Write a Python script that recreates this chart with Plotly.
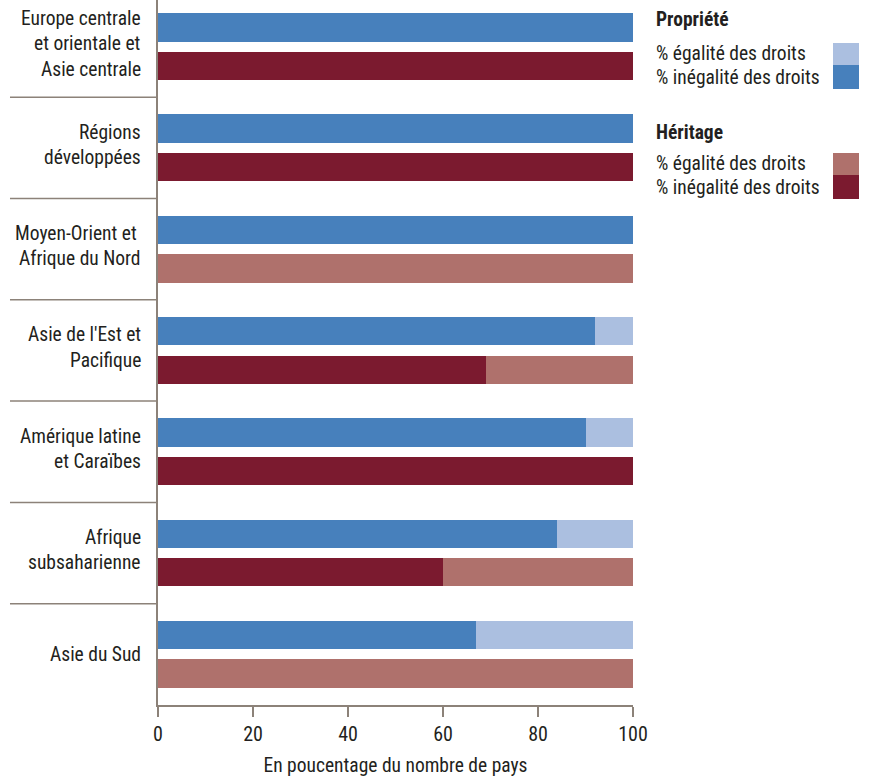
import plotly.graph_objects as go

# Regions, top to bottom; each label split into its display lines
regions = [
    ["Europe centrale", "et orientale et", "Asie centrale"],
    ["Régions", "développées"],
    ["Moyen-Orient et ", "Afrique du Nord"],
    ["Asie de l'Est et", "Pacifique"],
    ["Amérique latine", "et Caraïbes"],
    ["Afrique", "subsaharienne"],
    ["Asie du Sud"],
]

# Property rights (% of countries)
prop_inegalite = [100, 100, 100, 92, 90, 84, 67]
prop_egalite = [0, 0, 0, 8, 10, 16, 33]

# Inheritance rights (% of countries)
her_inegalite = [100, 100, 0, 69, 100, 60, 0]
her_egalite = [0, 0, 100, 31, 0, 40, 100]

x_ticks = [0, 20, 40, 60, 80, 100]

BLUE_DARK = "#4780BC"
BLUE_LIGHT = "#ABBFE0"
RED_DARK = "#7B1A2F"
RED_LIGHT = "#AF716C"
TEXT = "#231F20"
AXIS = "#8C8279"
FONT = "Liberation Sans Narrow, Roboto Condensed, DejaVu Sans Condensed, Arial Narrow, sans-serif"
FS = 19.5

idx = list(range(len(regions)))
y_prop = [i - 0.19 for i in idx]
y_her = [i + 0.19 for i in idx]
bar_w = 0.28

fig = go.Figure()
fig.add_trace(go.Bar(y=y_prop, x=prop_inegalite, orientation="h", width=bar_w,
                     marker=dict(color=BLUE_DARK, line=dict(width=0)), showlegend=False))
fig.add_trace(go.Bar(y=y_prop, x=prop_egalite, orientation="h", width=bar_w,
                     marker=dict(color=BLUE_LIGHT, line=dict(width=0)), showlegend=False))
fig.add_trace(go.Bar(y=y_her, x=her_inegalite, orientation="h", width=bar_w,
                     marker=dict(color=RED_DARK, line=dict(width=0)), showlegend=False))
fig.add_trace(go.Bar(y=y_her, x=her_egalite, orientation="h", width=bar_w,
                     marker=dict(color=RED_LIGHT, line=dict(width=0)), showlegend=False))

annotations = []
shapes = []

# Region labels, one annotation per line, right-aligned against the axis
line_gap = 25.5
for i, lines in enumerate(regions):
    n = len(lines)
    for k, line in enumerate(lines):
        shift = ((n - 1) / 2 - k) * line_gap + (3 if n > 1 else 0)
        annotations.append(dict(
            x=-0.0316, xref="paper", xanchor="right",
            y=i, yref="y", yanchor="middle", yshift=shift,
            text=line, showarrow=False,
            font=dict(family=FONT, size=FS, color=TEXT),
        ))

# Separator rules between region groups
for i in range(len(regions) - 1):
    shapes.append(dict(type="line", xref="paper", yref="y",
                       x0=-0.3116, x1=0, y0=i + 0.5, y1=i + 0.5,
                       line=dict(color=AXIS, width=1.5)))

# Custom legend (paper coordinates; plot spans x 158-633 px, y 0-705 px)
def px_x(p):
    return (p - 158) / 475.0

def px_y(p):
    return 1 - p / 705.0

legend_blocks = [
    ("Propriété", 19, [("% égalité des droits", 53, BLUE_LIGHT, 43, 65),
                       ("% inégalité des droits", 77, BLUE_DARK, 65, 89)]),
    ("Héritage", 133, [("% égalité des droits", 163, RED_LIGHT, 153, 175),
                       ("% inégalité des droits", 188, RED_DARK, 175, 199)]),
]
for title, ty, items in legend_blocks:
    annotations.append(dict(
        x=px_x(654), xref="paper", xanchor="left",
        y=px_y(ty), yref="paper", yanchor="middle",
        text="<b>" + title + "</b>", showarrow=False,
        font=dict(family=FONT, size=FS, color=TEXT),
    ))
    for label, ly, color, sy0, sy1 in items:
        annotations.append(dict(
            x=px_x(654), xref="paper", xanchor="left",
            y=px_y(ly), yref="paper", yanchor="middle",
            text=label, showarrow=False,
            font=dict(family=FONT, size=FS, color=TEXT),
        ))
        shapes.append(dict(type="rect", xref="paper", yref="paper",
                           x0=px_x(833), x1=px_x(859), y0=px_y(sy1), y1=px_y(sy0),
                           fillcolor=color, line=dict(width=0)))

fig.update_layout(
    width=869, height=778,
    margin=dict(l=158, r=236, t=0, b=73),
    paper_bgcolor="white", plot_bgcolor="white",
    barmode="stack", bargap=0,
    showlegend=False,
    font=dict(family=FONT, size=FS, color=TEXT),
    annotations=annotations,
    shapes=shapes,
    xaxis=dict(
        range=[0, 100], tickvals=x_ticks, ticktext=[str(v) for v in x_ticks],
        showgrid=False, zeroline=False,
        showline=True, linecolor=AXIS, linewidth=1.5,
        ticks="outside", ticklen=10, tickwidth=1.5, tickcolor=AXIS,
        tickfont=dict(family=FONT, size=20, color=TEXT),
        title=dict(text="En poucentage du nombre de pays",
                   font=dict(family=FONT, size=19.5, color=TEXT), standoff=14),
        fixedrange=True,
    ),
    yaxis=dict(
        range=[6.5, -0.46],
        showticklabels=False, ticks="", showgrid=False, zeroline=False,
        showline=True, linecolor=AXIS, linewidth=1.5,
        fixedrange=True,
    ),
)

fig.write_html("out.html")
